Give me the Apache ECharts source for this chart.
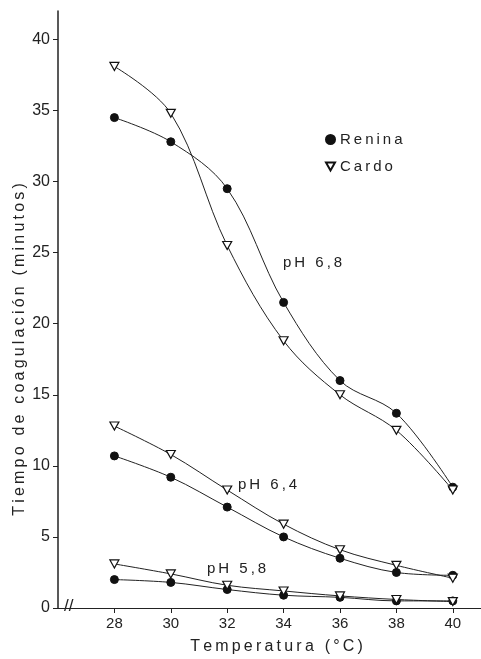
<!DOCTYPE html>
<html>
<head>
<meta charset="utf-8">
<script src="https://cdn.jsdelivr.net/npm/echarts@6/dist/echarts.min.js"></script>
<style>
  html, body { margin: 0; padding: 0; background: #fff; }
  #chart { width: 481px; height: 659px; }
</style>
</head>
<body>
<div id="chart"></div>
<script>
// temperaturas (°C)
var temps = [28, 30, 32, 34, 36, 38, 40];
var xTicks = [28, 30, 32, 34, 36, 38, 40];
var yTicks = [0, 5, 10, 15, 20, 25, 30, 35, 40];

// tiempo de coagulación (minutos)
var renina68 = [34.5, 32.8, 29.5, 21.5, 16.0, 13.7, 8.5];
var cardo68 = [38.1, 34.8, 25.5, 18.8, 15.0, 12.5, 8.3];
var renina64 = [10.7, 9.2, 7.1, 5.0, 3.5, 2.5, 2.3];
var cardo64 = [12.8, 10.8, 8.3, 5.9, 4.1, 3.0, 2.1];
var renina58 = [2.0, 1.8, 1.3, 0.9, 0.75, 0.5, 0.5];
var cardo58 = [3.1, 2.4, 1.6, 1.2, 0.85, 0.6, 0.45];

var triDown = 'path://M0,0 L10,0 L5,9 Z';

// texto espaciado (tipografía ancha del original)
function esp(s) {
    return s.split('').join('\u2009');
}

function pares(vals) {
    return temps.map(function (t, i) { return [t, vals[i]]; });
}

function serie(nombre, vals) {
    var esRenina = nombre === 'Renina';
    return {
        name: nombre,
        type: 'line',
        smooth: 0.35,
        data: pares(vals),
        symbol: esRenina ? 'circle' : triDown,
        symbolSize: esRenina ? 8 : [9, 8],
        lineStyle: { color: '#222', width: 1 },
        itemStyle: esRenina
            ? { color: '#111', borderColor: '#111', borderWidth: 1 }
            : { color: '#fff', borderColor: '#111', borderWidth: 1.2 },
        z: esRenina ? 3 : 4
    };
}

var chart = echarts.init(document.getElementById('chart'));
var option = {
    backgroundColor: '#fff',
    animation: false,
    textStyle: { fontFamily: 'Liberation Sans', color: '#222' },
    grid: { left: 58, right: 0, top: 11, bottom: 51, outerBoundsMode: 'none' },
    legend: {
        orient: 'vertical',
        left: 320,
        top: 127,
        itemGap: 12,
        itemWidth: 9,
        itemHeight: 9,
        data: [
            { name: 'Renina', icon: 'circle' },
            { name: 'Cardo', icon: triDown }
        ],
        textStyle: { fontSize: 15, color: '#222', fontFamily: 'Liberation Sans' },
        formatter: function (n) { return esp(n); }
    },
    xAxis: {
        type: 'value',
        min: 26,
        max: 41,
        name: esp('Temperatura (°C)'),
        nameLocation: 'middle',
        nameGap: 31,
        nameMoveOverlap: false,
        nameTextStyle: { fontSize: 16, color: '#222', padding: [0, 0, 0, 14] },
        axisLine: { lineStyle: { color: '#222', width: 1 } },
        axisTick: { customValues: xTicks, length: 5, lineStyle: { color: '#222' } },
        axisLabel: { customValues: xTicks, fontSize: 15, color: '#222', margin: 8 },
        splitLine: { show: false }
    },
    yAxis: {
        type: 'value',
        min: 0,
        max: 42,
        name: esp('Tiempo de coagulación (minutos)'),
        nameLocation: 'middle',
        nameRotate: 90,
        nameGap: 30,
        nameMoveOverlap: false,
        nameTextStyle: { fontSize: 16, color: '#222', padding: [0, 80, 0, 0] },
        axisLine: { lineStyle: { color: '#222', width: 1.5 } },
        axisTick: { customValues: yTicks, length: 5, lineStyle: { color: '#222' } },
        axisLabel: { customValues: yTicks, fontSize: 16, color: '#222', margin: 8 },
        splitLine: { show: false }
    },
    graphic: [
        {
            type: 'text',
            left: 64,
            top: 598,
            style: { text: '//', fontSize: 17, fill: '#222', backgroundColor: '#fff', fontFamily: 'Liberation Sans' }
        },
        {
            type: 'text', left: 283, top: 255,
            style: { text: esp('pH 6,8'), fontSize: 15, fill: '#222', fontFamily: 'Liberation Sans' }
        },
        {
            type: 'text', left: 238, top: 477,
            style: { text: esp('pH 6,4'), fontSize: 15, fill: '#222', fontFamily: 'Liberation Sans' }
        },
        {
            type: 'text', left: 207, top: 561,
            style: { text: esp('pH 5,8'), fontSize: 15, fill: '#222', fontFamily: 'Liberation Sans' }
        }
    ],
    series: [
        serie('Renina', renina68),
        serie('Cardo', cardo68),
        serie('Renina', renina64),
        serie('Cardo', cardo64),
        serie('Renina', renina58),
        serie('Cardo', cardo58)
    ]
};
chart.setOption(option);
</script>
</body>
</html>
